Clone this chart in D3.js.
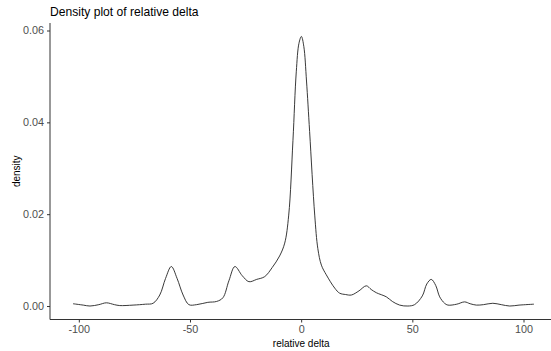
<!DOCTYPE html>
<meta charset="utf-8">
<script src="https://d3js.org/d3.v7.min.js"></script>
<style>
  body { margin: 0; background: #fff; }
  text { font-family: "Liberation Sans", Arial, sans-serif; }
</style>
<body>
<svg width="551" height="351"></svg>
<script>
    // density estimate (x = relative delta, y = density)
    var deltaX = [-102.6, -98, -95, -91, -87.6, -84, -81.6, -75.6, -70, -66.6, -63.6, -61, -58.4, -55.8, -53.1,
                  -50.5, -47, -42, -38, -35.2, -32.5, -29.8, -26.5, -23.5, -20, -16.4, -13, -9.7, -7.4, -5.6,
                  -3.7, -2.2, -1, 0.1, 1.2, 2.4, 3.8, 6.1, 7.5, 9.1, 11.3, 15.1, 17.3, 20, 22.6, 26, 29.3,
                  31.5, 33.8, 38.3, 41, 44.3, 48, 51, 54.5, 56.5, 58.5, 60.5, 62.3, 64.5, 66, 70, 73.5, 76,
                  78.8, 82, 86.2, 90, 93.8, 98, 104.7];
    var densityY = [0.0005, 0.0002, 0.0000, 0.0003, 0.0007, 0.0003, 0.0001, 0.0002, 0.0004, 0.0006, 0.0024, 0.0060, 0.0086, 0.0060, 0.0024,
                    0.0003, 0.0003, 0.0008, 0.0010, 0.0018, 0.0055, 0.0086, 0.0066, 0.0053, 0.0058, 0.0064, 0.0084, 0.0109, 0.0137, 0.0198,
                    0.0360, 0.0510, 0.0572, 0.0587, 0.0565, 0.0490, 0.0380, 0.0198, 0.0125, 0.0089, 0.0068, 0.0039, 0.0028, 0.0025, 0.0024, 0.0033, 0.0044,
                    0.0036, 0.0029, 0.0020, 0.0010, 0.0002, 0.0000, 0.0003, 0.0022, 0.0048, 0.0058, 0.0045, 0.0020, 0.0006, 0.0002, 0.0004, 0.0009, 0.0005,
                    0.0002, 0.0003, 0.0006, 0.0003, 0.0000, 0.0002, 0.0004];
    var xTicks = [-100, -50, 0, 50, 100];
    var yTicks = [0, 0.02, 0.04, 0.06];

    var data = deltaX.map(function(d, i){ return {x: d, y: densityY[i]}; });

    var svg = d3.select('svg');
    var padL = 50, padR = 557, padT = 23, padB = 319.5;

    // ggplot style 5% expansion
    var xExt = d3.extent(deltaX), xPad = (xExt[1] - xExt[0]) * 0.05;
    var yMax = d3.max(densityY), yPad = yMax * 0.05;
    var x = d3.scaleLinear().domain([xExt[0] - xPad, xExt[1] + xPad]).range([padL, padR]);
    var y = d3.scaleLinear().domain([-yPad, yMax + yPad]).range([padB, padT]);

    var line = d3.line()
        .x(function(d){ return x(d.x); })
        .y(function(d){ return y(d.y); })
        .curve(d3.curveCatmullRom.alpha(0.5));

    svg.append('path')
        .datum(data)
        .attr('fill', 'none')
        .attr('stroke', '#222')
        .attr('stroke-width', 0.9)
        .attr('d', line);

    // axes
    var xAxis = svg.append('g')
        .attr('transform', 'translate(0,' + padB + ')')
        .call(d3.axisBottom(x).tickValues(xTicks).tickSize(3).tickPadding(3)
              .tickFormat(function(d){ return String(d); }));
    var yAxis = svg.append('g')
        .attr('transform', 'translate(' + padL + ',0)')
        .call(d3.axisLeft(y).tickValues(yTicks).tickSize(3).tickPadding(3)
              .tickFormat(function(d){ return d.toFixed(2); }));

    [xAxis, yAxis].forEach(function(g){
        g.select('.domain').remove();
        g.selectAll('.tick line').attr('stroke', '#333');
        g.selectAll('.tick text').attr('fill', '#4d4d4d').style('font-size', '10.8px')
            .style('font-family', '"Liberation Sans", Arial, sans-serif');
    });
    svg.append('line').attr('x1', padL).attr('x2', padR).attr('y1', padB).attr('y2', padB)
        .attr('stroke', '#333').attr('stroke-width', 1);
    svg.append('line').attr('x1', padL).attr('x2', padL).attr('y1', padT).attr('y2', padB)
        .attr('stroke', '#333').attr('stroke-width', 1);

    // labels
    svg.append('text').attr('x', 50).attr('y', 15.5)
        .attr('font-size', '12.1px').attr('fill', '#000')
        .text('Density plot of relative delta');
    svg.append('text').attr('x', x(0)).attr('y', 346.5)
        .attr('text-anchor', 'middle').attr('font-size', '10px').attr('fill', '#000')
        .text('relative delta');
    svg.append('text').attr('transform', 'translate(19.5,' + ((padT + padB) / 2) + ') rotate(-90)')
        .attr('text-anchor', 'middle').attr('font-size', '10px').attr('fill', '#000')
        .text('density');
</script>
</body>
